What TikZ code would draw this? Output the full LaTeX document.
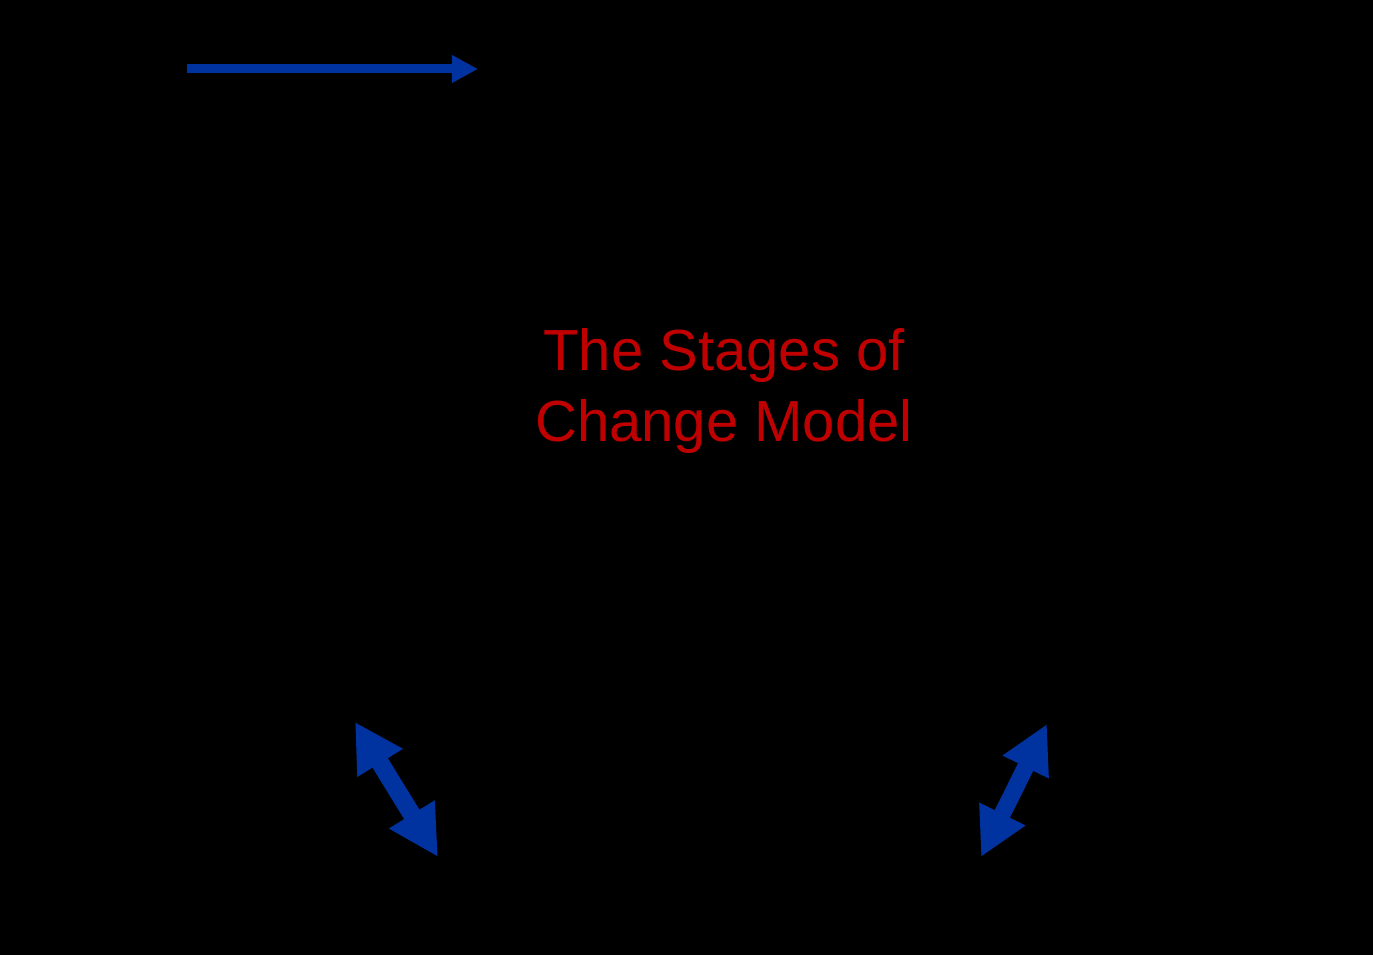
\documentclass[tikz,border=0pt]{standalone}
\usepackage{fontspec}
\setmainfont{Liberation Sans}
\usepackage{xcolor}
\usetikzlibrary{arrows.meta}

\definecolor{arrowblue}{RGB}{0,51,160}
\definecolor{titlered}{RGB}{192,0,0}

\begin{document}
\begin{tikzpicture}[x=0.01cm, y=-0.01cm, >=Triangle]
    % Background
    \fill[black] (0,0) rectangle (1373,955);
    \useasboundingbox (0,0) rectangle (1373,955);
    
    % Coordinates
    \coordinate (TopStart) at (187,69);
    \coordinate (TopEnd) at (478,69);
    \coordinate (LeftUp) at (355,722);
    \coordinate (LeftDown) at (438,857);
    \coordinate (RightUp) at (1047,724);
    \coordinate (RightDown) at (981,857);
    
    % Title in the middle
    \node[text=titlered, font=\fontsize{16.5}{20}\selectfont, align=center] (Title) at (724,391)
        {The Stages of\\Change Model};
    
    % Thin arrow at the top
    \draw[arrowblue, line width=0.09cm, -{Triangle[length=0.26cm, width=0.26cm]}] (TopStart) -- (TopEnd);
    
    % --- Double arrows at the bottom ---
    \draw[arrowblue, line width=0.18cm, {Triangle[length=0.48cm, width=0.5cm]}-{Triangle[length=0.5cm, width=0.5cm]}] (LeftUp) -- (LeftDown);
    \draw[arrowblue, line width=0.17cm, {Triangle[length=0.48cm, width=0.48cm]}-{Triangle[length=0.48cm, width=0.48cm]}] (RightUp) -- (RightDown);
    
\end{tikzpicture}
\end{document}
